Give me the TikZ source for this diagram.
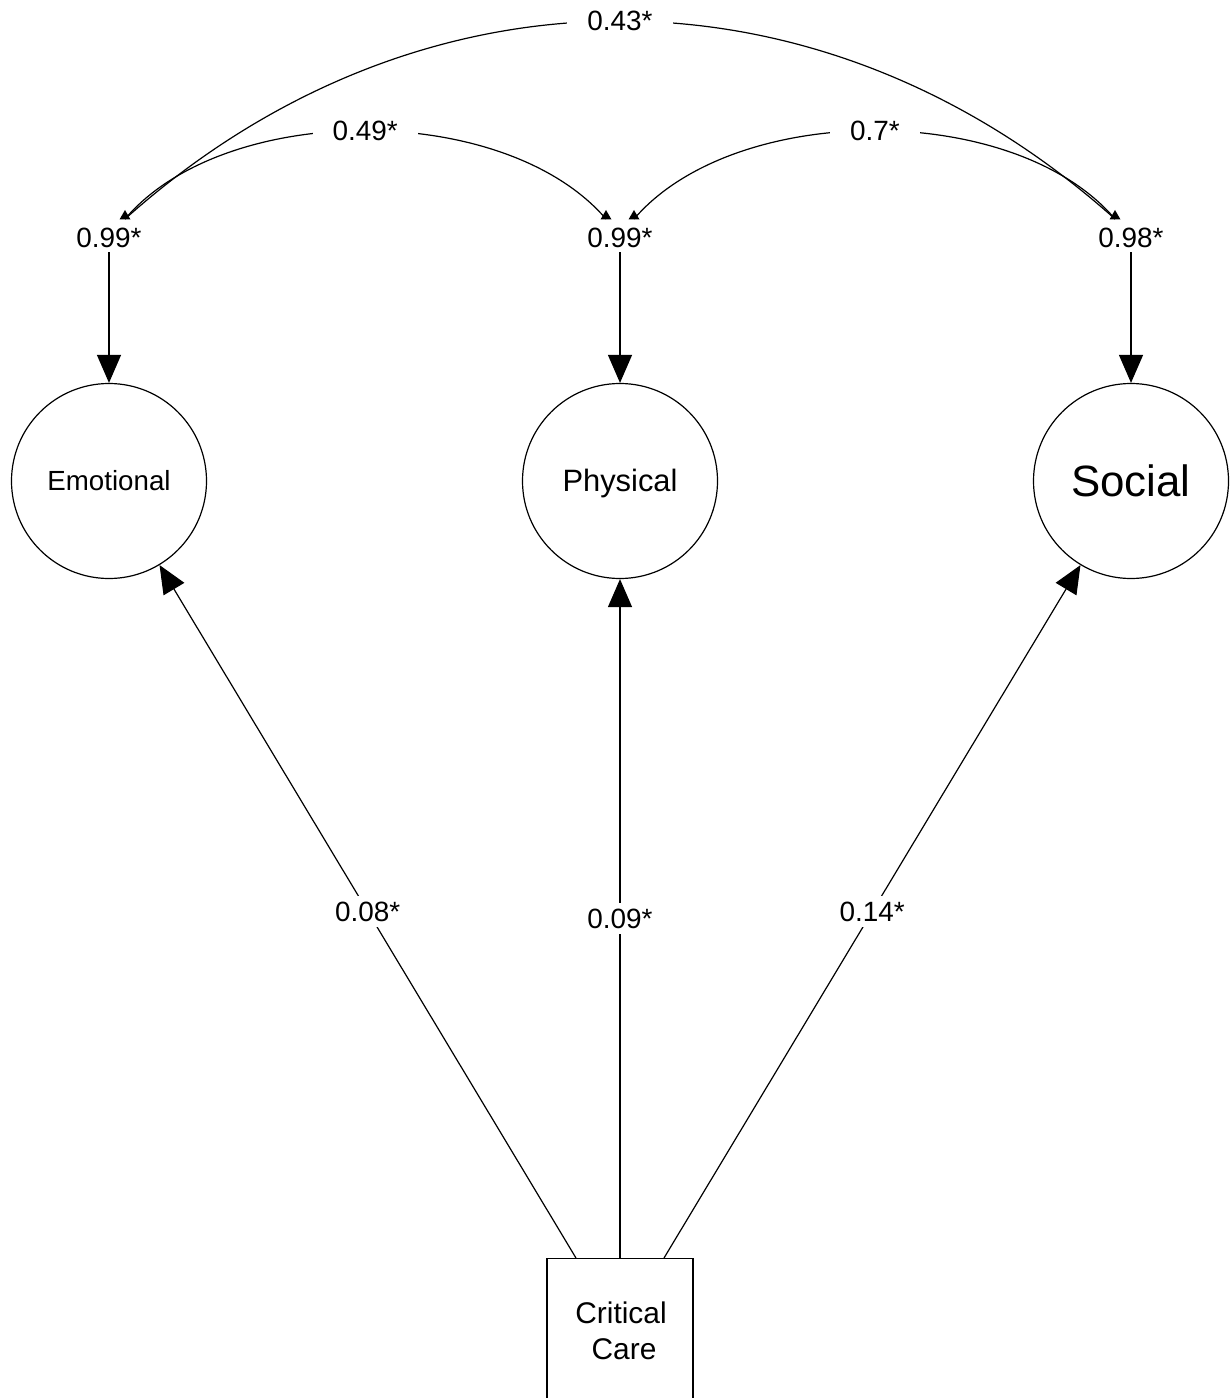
\documentclass[tikz,border=0pt]{standalone}
\usepackage{fontspec}
\setmainfont{Liberation Sans}
\usetikzlibrary{arrows.meta}
\begin{document}
\begin{tikzpicture}[x=1bp,y=-1bp,line width=1.2bp,
  latent/.style={draw,circle,minimum size=195bp,inner sep=0pt},
  errlbl/.style={font=\fontsize{28}{32}\selectfont,inner sep=4bp},
  covlbl/.style={font=\fontsize{28}{32}\selectfont,fill=white,inner xsep=20bp,inner ysep=4bp},
  pathlbl/.style={font=\fontsize{28}{32}\selectfont,fill=white,inner xsep=3bp,inner ysep=6bp},
  regpath/.style={-{Triangle[length=28bp,width=24bp]}},
  tipmark/.style={fill=black}]
\useasboundingbox (0,0) rectangle (1229,1398);
% latent variables
\node[latent,font=\fontsize{27.8}{32}\selectfont] (emo) at (109,481) {Emotional};
\node[latent,font=\fontsize{31}{36}\selectfont,text depth=1bp] (phy) at (620,481) {Physical};
\node[latent,font=\fontsize{44}{50}\selectfont] (soc) at (1131,481) {Social};
% error terms
\node[errlbl] (e1) at (109,238) {0.99*};
\node[errlbl] (e2) at (620,238) {0.99*};
\node[errlbl] (e3) at (1131,238) {0.98*};
\draw[regpath] (e1) -- (emo);
\draw[regpath] (e2) -- (phy);
\draw[regpath] (e3) -- (soc);
% covariance ends
\coordinate (a1) at (125,219);
\coordinate (b1) at (606,219);
\coordinate (b2) at (634,219);
\coordinate (c1) at (1115,219);
\foreach \p in {a1,b1,b2,c1}
  \fill[tipmark,shift={(\p)}] (-5.5,0.5) -- (0,-9) -- (5.5,0.5) -- cycle;
\draw (a1) .. controls (420,-45) and (820,-45) .. node[covlbl,pos=0.5] {0.43*} (c1);
\draw (a1) .. controls (225,101) and (505,101) .. node[covlbl,pos=0.5] {0.49*} (b1);
\draw (b2) .. controls (735,101) and (1015,101) .. node[covlbl,pos=0.5] {0.7*} (c1);
% predictor
\node[draw,minimum width=146bp,minimum height=220bp,anchor=north,inner sep=0pt] (cc) at (620,1258) {};
\node[font=\fontsize{30}{36}\selectfont,align=center] (cct) at (621,1331) {Critical\\\hspace*{6bp}Care};
\draw[regpath] ([xshift=-44bp]cc.north) -- node[pathlbl] {0.08*} (emo);
\draw[regpath] (cc.north) -- node[pathlbl] {0.09*} (phy);
\draw[regpath] ([xshift=44bp]cc.north) -- node[pathlbl] {0.14*} (soc);
\end{tikzpicture}
\end{document}
